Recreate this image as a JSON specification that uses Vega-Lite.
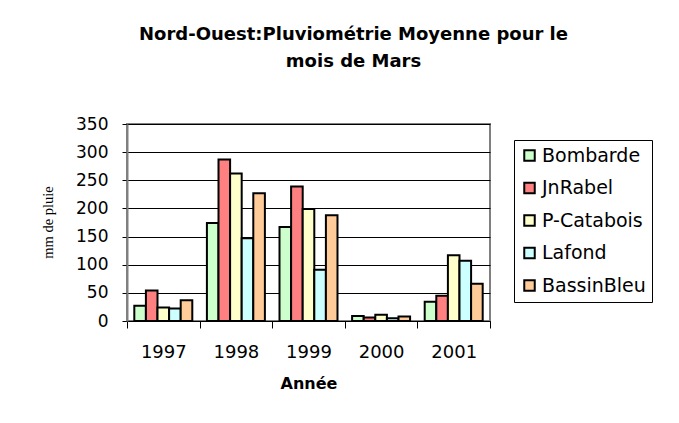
{
  "$schema": "https://vega.github.io/schema/vega-lite/v6.json",
  "width": 363,
  "height": 197,
  "autosize": {"type": "none"},
  "padding": {"left": 127, "top": 124, "right": 189, "bottom": 102},
  "background": "white",
  "title": {
    "text": ["Nord-Ouest:Pluviométrie Moyenne pour le", "mois de Mars"],
    "font": "DejaVu Sans",
    "fontSize": 18,
    "fontWeight": "bold",
    "color": "black",
    "anchor": "middle",
    "frame": "group",
    "dx": 45,
    "offset": 44,
    "lineHeight": 27
  },
  "data": {
    "values": [
      {"annee": "1997", "station": "Bombarde", "mm": 27},
      {"annee": "1997", "station": "JnRabel", "mm": 54},
      {"annee": "1997", "station": "P-Catabois", "mm": 24},
      {"annee": "1997", "station": "Lafond", "mm": 22},
      {"annee": "1997", "station": "BassinBleu", "mm": 37},
      {"annee": "1998", "station": "Bombarde", "mm": 174},
      {"annee": "1998", "station": "JnRabel", "mm": 287},
      {"annee": "1998", "station": "P-Catabois", "mm": 262},
      {"annee": "1998", "station": "Lafond", "mm": 147},
      {"annee": "1998", "station": "BassinBleu", "mm": 227},
      {"annee": "1999", "station": "Bombarde", "mm": 167},
      {"annee": "1999", "station": "JnRabel", "mm": 239},
      {"annee": "1999", "station": "P-Catabois", "mm": 199},
      {"annee": "1999", "station": "Lafond", "mm": 91},
      {"annee": "1999", "station": "BassinBleu", "mm": 188},
      {"annee": "2000", "station": "Bombarde", "mm": 9},
      {"annee": "2000", "station": "JnRabel", "mm": 6},
      {"annee": "2000", "station": "P-Catabois", "mm": 11},
      {"annee": "2000", "station": "Lafond", "mm": 5},
      {"annee": "2000", "station": "BassinBleu", "mm": 8},
      {"annee": "2001", "station": "Bombarde", "mm": 34},
      {"annee": "2001", "station": "JnRabel", "mm": 45},
      {"annee": "2001", "station": "P-Catabois", "mm": 117},
      {"annee": "2001", "station": "Lafond", "mm": 107},
      {"annee": "2001", "station": "BassinBleu", "mm": 66}
    ]
  },
  "mark": {"type": "bar", "stroke": "black", "strokeWidth": 2},
  "encoding": {
    "x": {
      "field": "annee",
      "type": "nominal",
      "scale": {"paddingInner": 0, "paddingOuter": 0},
      "axis": {
        "title": "Année",
        "titleFont": "DejaVu Sans",
        "titleFontSize": 16,
        "titleFontWeight": "bold",
        "titleColor": "black",
        "titlePadding": 14,
        "labelAngle": 0,
        "labelFont": "DejaVu Sans",
        "labelFontSize": 18,
        "labelColor": "black",
        "labelPadding": 15,
        "tickBand": "extent",
        "tickSize": 7,
        "tickColor": "black",
        "domainColor": "black",
        "domainWidth": 1
      }
    },
    "xOffset": {
      "field": "station",
      "sort": ["Bombarde", "JnRabel", "P-Catabois", "Lafond", "BassinBleu"],
      "scale": {"paddingInner": 0, "paddingOuter": 0.63}
    },
    "y": {
      "field": "mm",
      "type": "quantitative",
      "scale": {"domain": [0, 350], "nice": false},
      "axis": {
        "values": [0, 50, 100, 150, 200, 250, 300, 350],
        "title": "mm de pluie",
        "titleFont": "Liberation Serif",
        "titleFontSize": 14.5,
        "titleFontWeight": "normal",
        "titleColor": "black",
        "titleX": -79,
        "titleY": 98,
        "titleAlign": "center",
        "titleBaseline": "middle",
        "titleAngle": -90,
        "labelFont": "DejaVu Sans",
        "labelFontSize": 17,
        "labelColor": "black",
        "labelPadding": 14,
        "tickSize": 5,
        "tickColor": "black",
        "domainColor": "#808080",
        "domainWidth": 2,
        "gridColor": "black",
        "gridOpacity": 1,
        "gridWidth": 1
      }
    },
    "color": {
      "field": "station",
      "type": "nominal",
      "scale": {
        "domain": ["Bombarde", "JnRabel", "P-Catabois", "Lafond", "BassinBleu"],
        "range": ["#CCFFCC", "#FF8080", "#FFFFCC", "#CCFFFF", "#FFCC99"]
      },
      "legend": {
        "orient": "none",
        "legendX": 387,
        "legendY": 16,
        "title": null,
        "strokeColor": "black",
        "fillColor": "white",
        "padding": 6,
        "symbolType": "square",
        "symbolSize": 110,
        "symbolStrokeColor": "black",
        "symbolStrokeWidth": 2,
        "symbolOpacity": 1,
        "labelFont": "DejaVu Sans",
        "labelFontSize": 19,
        "labelColor": "black",
        "labelOffset": 3,
        "labelLimit": 300,
        "rowPadding": 12.5
      }
    }
  },
  "config": {
    "view": {"stroke": "#808080", "strokeWidth": 2}
  }
}
